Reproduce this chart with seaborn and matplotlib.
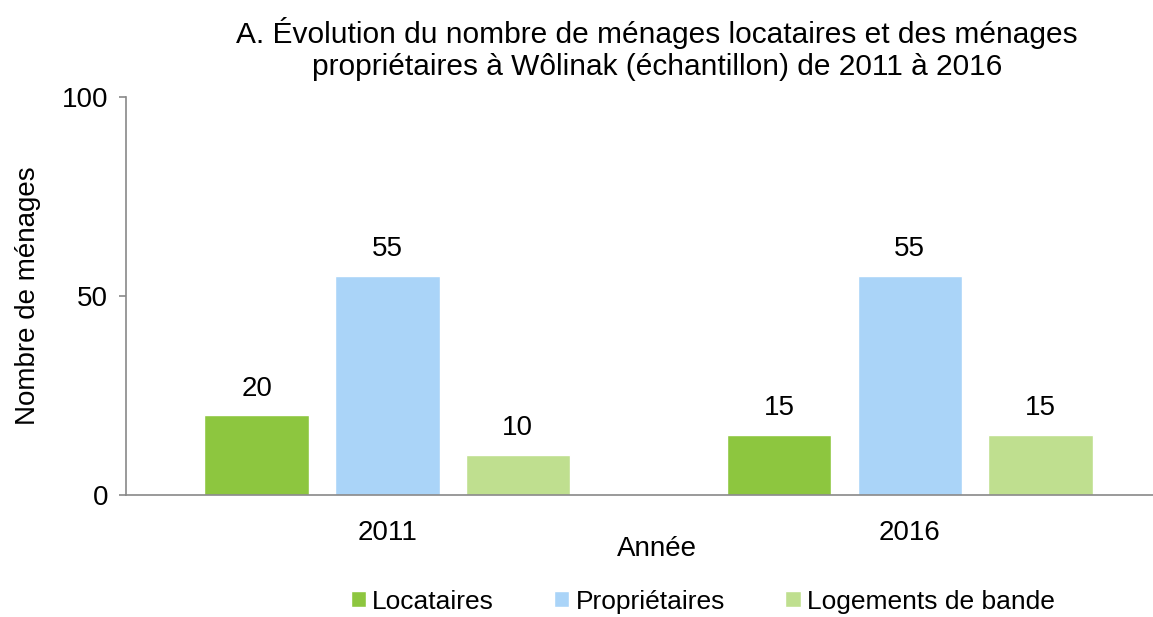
import matplotlib
matplotlib.use("Agg")
import matplotlib.pyplot as plt
import seaborn as sns
import pandas as pd

# -- Data -------------------------------------------------------------
years = ["2011", "2016"]
series = ["Locataires", "Propriétaires", "Logements de bande"]
locataires = [20, 15]
proprietaires = [55, 55]
logements_bande = [10, 15]
colors = ["#8DC63F", "#AAD4F8", "#BFDF8F"]

df = pd.DataFrame({
    "Année": years * 3,
    "Type": [s for s in series for _ in years],
    "Ménages": locataires + proprietaires + logements_bande,
})

sns.set_theme(style="white")
plt.rcParams["font.family"] = ["Liberation Sans", "DejaVu Sans"]
plt.rcParams["text.color"] = "black"
plt.rcParams["axes.labelcolor"] = "black"
plt.rcParams["xtick.color"] = "black"
plt.rcParams["ytick.color"] = "black"

FS = 20

fig = plt.figure(figsize=(11.53, 6.17), dpi=100)
ax = fig.add_axes([126 / 1153, 122 / 617, 1045 / 1153, 398 / 617])

sns.barplot(
    data=df, x="Année", y="Ménages", hue="Type",
    hue_order=series, palette=colors,
    width=0.75, gap=0.2, saturation=1, ax=ax,
)

for container in ax.containers:
    ax.bar_label(container, padding=10, fontsize=FS, color="black")

ax.set_ylim(0, 100)
ax.set_yticks([0, 50, 100])
ax.set_xlim(-0.5, 1.5)

for side in ["top", "right"]:
    ax.spines[side].set_visible(False)
for side in ["left", "bottom"]:
    ax.spines[side].set_color("#898989")
    ax.spines[side].set_linewidth(1.2)

ax.tick_params(axis="y", left=True, length=5, width=1.2, color="#898989",
               labelsize=FS, labelcolor="black", pad=8)
ax.tick_params(axis="x", bottom=False, labelsize=FS, labelcolor="black", pad=12)

ax.set_ylabel("Nombre de ménages", fontsize=FS, va="center", color="black")
ax.yaxis.set_label_coords(-0.094, 0.5)
ax.set_xlabel("Année", fontsize=FS, va="center", color="black")
ax.xaxis.set_label_coords(0.508, -0.136)

fig.text(657 / 1153, 1 - 49 / 617,
         "A. Évolution du nombre de ménages locataires et des ménages\n"
         "propriétaires à Wôlinak (échantillon) de 2011 à 2016",
         ha="center", va="center", fontsize=21.5, linespacing=1.15,
         color="black")

sns.move_legend(
    ax, "center", bbox_to_anchor=(0.5517, -0.268), ncol=3, frameon=False,
    title=None, fontsize=19, handlelength=0.57, handleheight=0.57,
    handletextpad=0.23, columnspacing=2.3,
)

plt.savefig("out.png", dpi=100)
plt.close()
